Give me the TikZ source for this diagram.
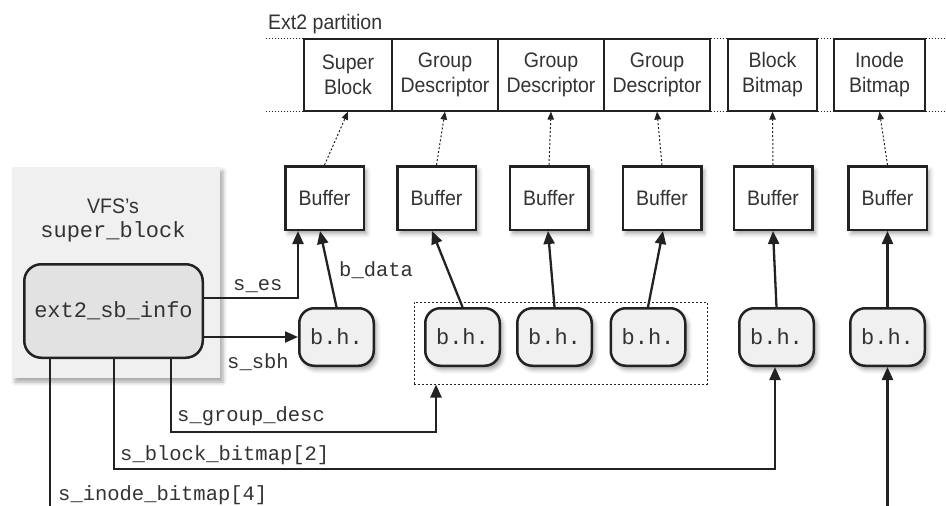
\documentclass[tikz,border=0pt]{standalone}
\usepackage{fontspec}
\setmainfont{Liberation Sans}[FakeStretch=0.93]
\setmonofont{Liberation Mono}
\usetikzlibrary{arrows.meta, shadows.blur}
\definecolor{tinta}{HTML}{222222}
\definecolor{letra}{HTML}{333333}
\definecolor{grisvfs}{HTML}{F0F0F0}
\definecolor{grisinfo}{HTML}{E2E2E2}
\tikzset{
  sombra/.style   = {blur shadow={shadow xshift=3pt, shadow yshift=-4pt, shadow blur radius=4pt, shadow opacity=35}},
  bloque/.style   = {draw=tinta, line width=1.2pt, minimum height=72pt, inner sep=0pt, align=center, text=letra, font=\fontsize{21}{25}\selectfont},
  corte/.style    = {tinta, line width=1.2pt, dash pattern=on 1.5pt off 1.5pt},
  bufer/.style    = {draw=tinta, fill=white, line width=2.5pt, minimum width=78.5pt, minimum height=63.5pt, text=letra, font=\fontsize{21}{24}\selectfont, sombra},
  cabeza/.style   = {draw=tinta, fill=grisvfs, line width=2.5pt, rounded corners=15pt, minimum width=74.5pt, minimum height=57.5pt, text=letra, font=\ttfamily\fontsize{22}{26}\selectfont},
  enlace/.style   = {-{Triangle[length=13pt, width=11pt]}, tinta, line width=2.3pt},
  puntos/.style   = {-{Triangle[length=8pt, width=6.5pt]}, tinta, line width=1pt, dash pattern=on 2pt off 2pt},
  etiqueta/.style = {inner sep=0pt, anchor=base west, text=letra, font=\ttfamily\fontsize{20.5}{24}\selectfont}
}

\begin{document}
\begin{tikzpicture}[x=1pt, y=-1pt]
  \useasboundingbox (0,0) rectangle (946,506);

  % particion ext2
  \node[inner sep=0pt, anchor=base west, text=letra, font=\fontsize{21}{24}\selectfont] (titulo) at (268,30) {Ext2 partition};
  \node[bloque, minimum width=88pt]  (p1) at (348,75)   {Super\\Block};
  \node[bloque, minimum width=106pt] (p2) at (445,75)   {Group\\Descriptor};
  \node[bloque, minimum width=106pt] (p3) at (551,75)   {Group\\Descriptor};
  \node[bloque, minimum width=106pt] (p4) at (657,75)   {Group\\Descriptor};
  \node[bloque, minimum width=89pt]  (p5) at (772.5,75) {Block\\Bitmap};
  \node[bloque, minimum width=91pt]  (p6) at (879.5,75) {Inode\\Bitmap};
  \foreach \a in {north, south}{
    \draw[corte] (p1.\a\space west) -- ++(-37,0);
    \draw[corte] (p4.\a\space east) -- (p5.\a\space west);
    \draw[corte] (p5.\a\space east) -- (p6.\a\space west);
    \draw[corte] (p6.\a\space east) -- ++(22,0);
  }

  % buffers
  \foreach \x [count=\i] in {324.5,436.5,549,662,773,887.5}{
    \node[bufer] (buf\i) at (\x,198) {Buffer};
    \draw[puntos] (buf\i.north) -- (p\i.south);
  }

  % super_block del VFS
  \node[fill=grisvfs, minimum width=208pt, minimum height=211pt, sombra] (vfs) at (116,272.5) {};
  \node[inner sep=0pt, anchor=base, text=letra, font=\fontsize{21}{24}\selectfont] (vfsnom) at (113,213) {VFS's};
  \node[inner sep=0pt, anchor=base, text=letra, font=\ttfamily\fontsize{22}{26}\selectfont] (vfstipo) at (113,237) {super\_block};
  \node[cabeza, fill=grisinfo, minimum width=178.5pt, minimum height=93.5pt, rounded corners=17pt] (info) at (113.5,311) {ext2\_sb\_info};

  % buffer heads
  \node[draw=tinta, line width=1pt, dash pattern=on 2pt off 2pt, minimum width=293pt, minimum height=82pt] (grupo) at (560.5,343) {};
  \foreach \x [count=\i] in {336.5,462.5,554.5,648,776.5,887.5}{
    \node[cabeza, sombra] (bh\i) at (\x,337) {b.h.};
  }

  % punteros
  \draw[enlace] ([yshift=13pt]info.east) -| ([xshift=-26.5pt]buf1.south);
  \draw[enlace] ([yshift=-26pt]info.east) -- (bh1.west);
  \draw[enlace] (bh1.north) -- ([xshift=-4.5pt]buf1.south);
  \draw[enlace] (bh2.north) -- ([xshift=-4.5pt]buf2.south);
  \draw[enlace] (bh3.north) -- ([xshift=-1pt]buf3.south);
  \draw[enlace] (bh4.north) -- ([xshift=1pt]buf4.south);
  \draw[enlace] (bh5.north) -- (buf5.south);
  \draw[enlace] (bh6.north) -- (buf6.south);
  \draw[enlace] ([xshift=57.5pt]info.south) -- ++(0,73) -| ([xshift=-124.5pt]grupo.south);
  \draw[enlace] ([xshift=0.5pt]info.south) -- ++(0,110) -| ([xshift=-1.5pt]bh5.south);
  \coordinate (salida) at (50,506);
  \coordinate (entrada) at (887.5,506);
  \draw[enlace, -] ([xshift=-63.5pt]info.south) -- (salida);
  \draw[enlace] (entrada) -- (bh6.south);

  % nombres de campos
  \node[etiqueta] (es)     at (233,290)   {s\_es};
  \node[etiqueta] (bdata)  at (339,276)   {b\_data};
  \node[etiqueta] (sbh)    at (227,368)   {s\_sbh};
  \node[etiqueta] (gdesc)  at (177,421.5) {s\_group\_desc};
  \node[etiqueta] (bbmap)  at (120,460.5) {s\_block\_bitmap[2]};
  \node[etiqueta] (ibmap)  at (58,500.5)  {s\_inode\_bitmap[4]};
\end{tikzpicture}
\end{document}
